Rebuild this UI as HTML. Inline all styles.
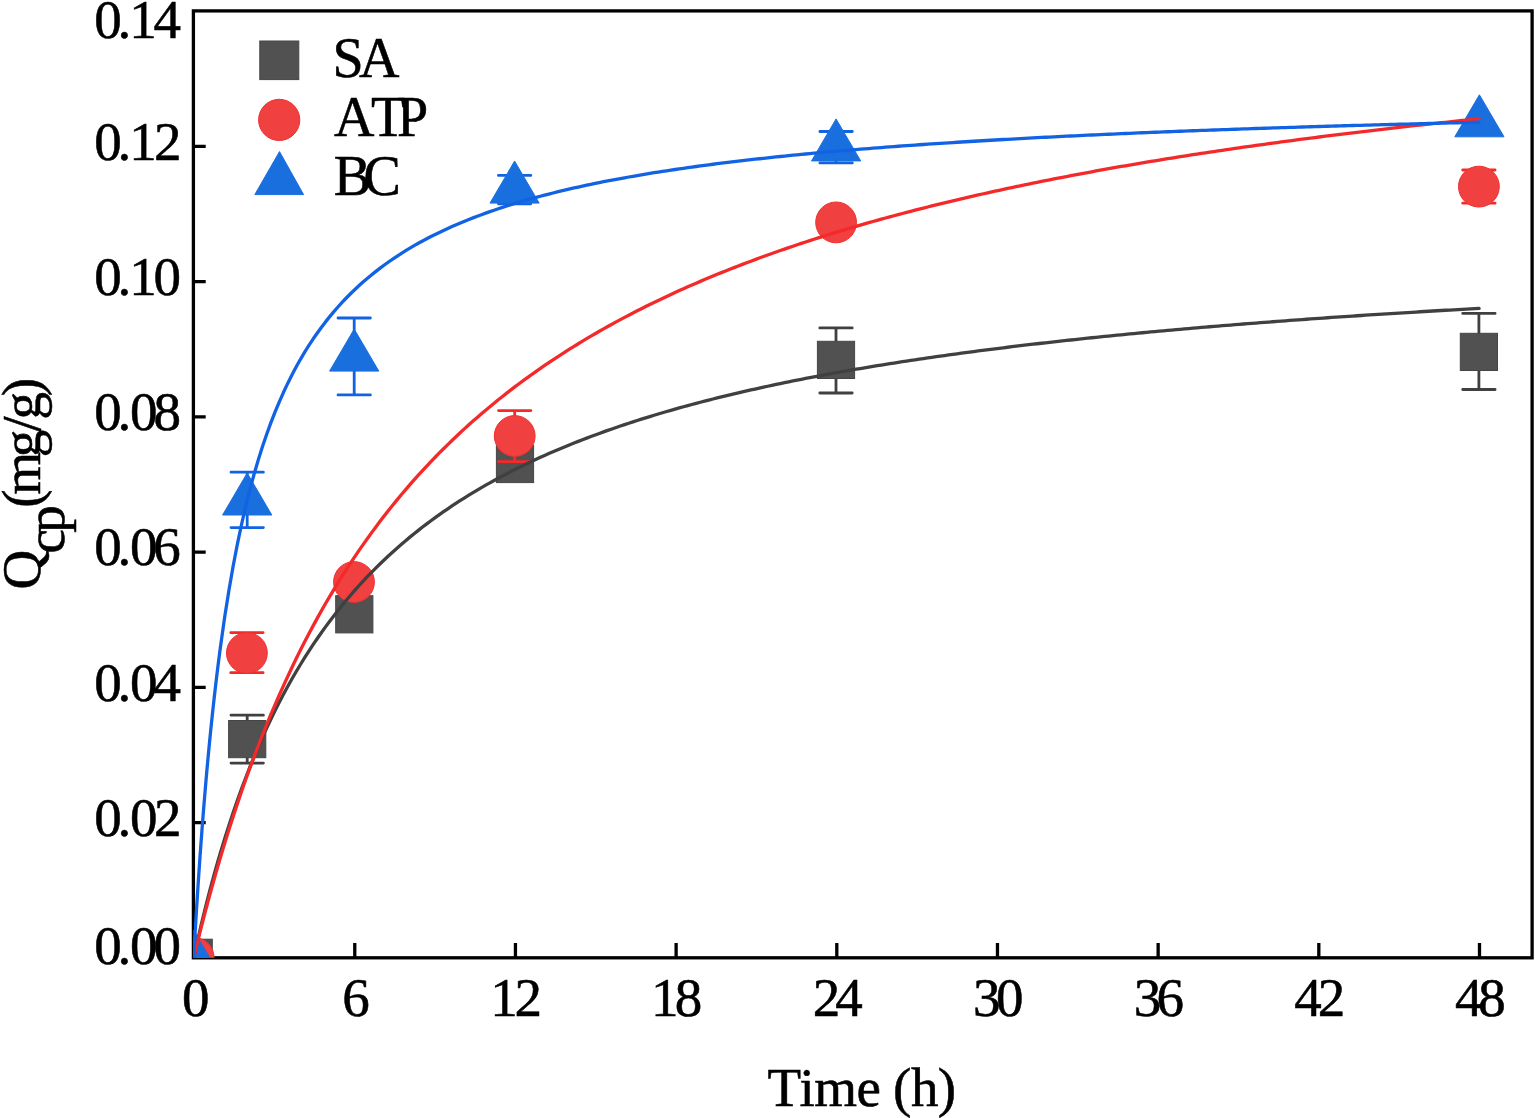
<!DOCTYPE html>
<html><head><meta charset="utf-8"><title>Qcp vs Time</title>
<style>html,body{margin:0;padding:0;background:#fff;overflow:hidden}svg{display:block}
text{font-family:"Liberation Serif","Times New Roman",serif;font-size:55px;fill:#000;stroke:#000;stroke-width:0.55px}</style></head>
<body><svg width="1535" height="1118" viewBox="0 0 1535 1118">
<rect width="1535" height="1118" fill="#fff"/>
<defs><clipPath id="pa"><rect x="193.4" y="10.9" width="1338.7" height="946.9"/></clipPath></defs>
<g>
<g stroke="#000" fill="none" stroke-width="3.3">
<rect x="193.4" y="10.9" width="1338.7" height="946.9"/>
<path d="M354.77,943 V957.8 M515.45,943 V957.8 M676.12,943 V957.8 M836.80,943 V957.8 M997.47,943 V957.8 M1158.14,943 V957.8 M1318.82,943 V957.8 M1479.49,943 V957.8 M193.4,822.56 H205.7 M193.4,687.32 H205.7 M193.4,552.08 H205.7 M193.4,416.84 H205.7 M193.4,281.60 H205.7 M193.4,146.36 H205.7 "/>
</g>
</g>
<g clip-path="url(#pa)">
<g stroke="#404040" stroke-width="2.8" stroke-linecap="round" fill="none"><path d="M247.20,715.20 V763.10 M231.00,715.20 H263.40 M231.00,763.10 H263.40"/><path d="M836.00,327.90 V393.00 M819.80,327.90 H852.20 M819.80,393.00 H852.20"/><path d="M1478.90,313.40 V389.50 M1462.70,313.40 H1495.10 M1462.70,389.50 H1495.10"/></g>
<g fill="#515151" stroke="#454545" stroke-width="1"><rect x="175.10" y="939.20" width="37.2" height="37.2"/><rect x="228.60" y="720.50" width="37.2" height="37.2"/><rect x="335.70" y="595.70" width="37.2" height="37.2"/><rect x="496.40" y="445.40" width="37.2" height="37.2"/><rect x="817.40" y="341.30" width="37.2" height="37.2"/><rect x="1460.30" y="333.30" width="37.2" height="37.2"/></g>
<g stroke="#f42a2a" stroke-width="2.8" stroke-linecap="round" fill="none"><path d="M246.90,632.60 V672.70 M230.70,632.60 H263.10 M230.70,672.70 H263.10"/><path d="M514.70,410.60 V461.60 M498.50,410.60 H530.90 M498.50,461.60 H530.90"/><path d="M1478.90,170.00 V203.20 M1462.70,170.00 H1495.10 M1462.70,203.20 H1495.10"/></g>
<g fill="#F14040" stroke="#f03030" stroke-width="1"><circle cx="193.70" cy="957.80" r="20.4"/><circle cx="246.90" cy="653.00" r="20.4"/><circle cx="354.00" cy="582.00" r="20.4"/><circle cx="514.70" cy="436.00" r="20.4"/><circle cx="836.10" cy="222.40" r="20.4"/><circle cx="1478.90" cy="186.60" r="20.4"/></g>
<g stroke="#1263e4" stroke-width="2.8" stroke-linecap="round" fill="none"><path d="M247.20,472.20 V527.60 M231.00,472.20 H263.40 M231.00,527.60 H263.40"/><path d="M354.20,318.00 V394.90 M338.00,318.00 H370.40 M338.00,394.90 H370.40"/><path d="M514.60,175.40 V203.80 M498.40,175.40 H530.80 M498.40,203.80 H530.80"/><path d="M836.10,131.50 V162.90 M819.90,131.50 H852.30 M819.90,162.90 H852.30"/></g>
<g fill="#1A6FDF" stroke="#1A6FDF" stroke-width="1" stroke-linejoin="round"><path d="M193.70,930.30 L218.30,972.30 L169.10,972.30Z"/><path d="M247.20,473.00 L271.80,515.00 L222.60,515.00Z"/><path d="M354.20,329.10 L378.80,371.10 L329.60,371.10Z"/><path d="M514.60,161.10 L539.20,203.10 L490.00,203.10Z"/><path d="M836.10,118.90 L860.70,160.90 L811.50,160.90Z"/><path d="M1479.40,94.80 L1504.00,136.80 L1454.80,136.80Z"/></g>
<g fill="none" stroke-width="3.3" stroke-linejoin="round" stroke-linecap="round">
<path stroke="#404040" d="M193.70,957.80 L194.15,955.72 L194.61,953.65 L195.06,951.60 L195.52,949.55 L195.97,947.52 L196.42,945.50 L196.88,943.49 L197.33,941.49 L197.78,939.50 L198.24,937.53 L198.69,935.56 L199.15,933.61 L199.60,931.66 L200.05,929.73 L200.51,927.81 L200.96,925.89 L201.42,923.99 L201.87,922.10 L202.32,920.22 L202.78,918.35 L203.23,916.49 L203.69,914.64 L204.14,912.80 L204.59,910.97 L205.05,909.14 L205.50,907.33 L205.95,905.53 L206.41,903.74 L206.86,901.95 L207.32,900.18 L207.77,898.42 L208.22,896.66 L208.68,894.92 L209.13,893.18 L209.59,891.45 L210.04,889.73 L210.49,888.02 L210.95,886.32 L211.40,884.63 L211.86,882.94 L212.31,881.27 L212.76,879.60 L213.22,877.95 L213.67,876.30 L214.12,874.65 L214.58,873.02 L215.03,871.40 L215.49,869.78 L215.94,868.17 L216.39,866.57 L216.85,864.98 L217.30,863.39 L217.76,861.82 L218.21,860.25 L218.66,858.69 L219.12,857.13 L219.57,855.59 L220.03,854.05 L220.48,852.52 L224.69,838.67 L228.90,825.42 L233.11,812.74 L237.32,800.58 L241.53,788.92 L245.74,777.73 L249.94,766.97 L254.15,756.63 L258.36,746.67 L262.57,737.08 L266.78,727.85 L270.99,718.94 L275.20,710.34 L279.41,702.04 L283.62,694.02 L287.83,686.27 L292.04,678.77 L296.25,671.51 L300.46,664.48 L304.67,657.67 L308.88,651.07 L313.09,644.67 L317.30,638.46 L321.50,632.44 L325.71,626.59 L329.92,620.90 L334.13,615.38 L338.34,610.00 L342.55,604.78 L346.76,599.70 L350.97,594.75 L355.18,589.93 L359.39,585.24 L363.60,580.66 L367.81,576.20 L372.02,571.86 L376.23,567.62 L380.44,563.48 L384.65,559.45 L388.86,555.51 L393.06,551.66 L397.27,547.90 L401.48,544.23 L405.69,540.64 L409.90,537.13 L414.11,533.70 L418.32,530.35 L422.53,527.07 L426.74,523.86 L430.95,520.71 L435.16,517.64 L439.37,514.62 L443.58,511.67 L447.79,508.78 L452.00,505.95 L456.21,503.17 L460.42,500.45 L464.62,497.78 L468.83,495.17 L473.04,492.60 L477.25,490.09 L481.46,487.62 L485.67,485.19 L489.88,482.82 L494.09,480.48 L498.30,478.19 L502.51,475.94 L506.72,473.73 L510.93,471.55 L515.14,469.42 L519.35,467.32 L523.56,465.26 L527.77,463.24 L531.98,461.25 L536.18,459.29 L540.39,457.36 L544.60,455.47 L548.81,453.61 L553.02,451.78 L557.23,449.97 L561.44,448.20 L565.65,446.46 L569.86,444.74 L574.07,443.05 L578.28,441.38 L582.49,439.74 L586.70,438.13 L590.91,436.54 L595.12,434.97 L599.33,433.43 L603.54,431.91 L607.74,430.41 L611.95,428.94 L616.16,427.48 L620.37,426.05 L624.58,424.64 L628.79,423.24 L633.00,421.87 L637.21,420.52 L641.42,419.18 L645.63,417.86 L649.84,416.56 L654.05,415.28 L658.26,414.02 L662.47,412.77 L666.68,411.54 L670.89,410.33 L675.10,409.13 L679.30,407.95 L683.51,406.78 L687.72,405.63 L691.93,404.49 L696.14,403.37 L700.35,402.26 L704.56,401.17 L708.77,400.08 L712.98,399.02 L717.19,397.96 L721.40,396.92 L725.61,395.89 L729.82,394.88 L734.03,393.87 L738.24,392.88 L742.45,391.90 L746.66,390.93 L750.86,389.97 L755.07,389.03 L759.28,388.09 L763.49,387.17 L767.70,386.25 L771.91,385.35 L776.12,384.46 L780.33,383.58 L784.54,382.70 L788.75,381.84 L792.96,380.99 L797.17,380.14 L801.38,379.31 L805.59,378.48 L809.80,377.66 L814.01,376.86 L818.21,376.06 L822.42,375.27 L826.63,374.48 L830.84,373.71 L835.05,372.94 L839.26,372.19 L843.47,371.44 L847.68,370.69 L851.89,369.96 L856.10,369.23 L860.31,368.51 L864.52,367.80 L868.73,367.10 L872.94,366.40 L877.15,365.71 L881.36,365.02 L885.57,364.34 L889.77,363.67 L893.98,363.01 L898.19,362.35 L902.40,361.70 L906.61,361.06 L910.82,360.42 L915.03,359.78 L919.24,359.16 L923.45,358.54 L927.66,357.92 L931.87,357.31 L936.08,356.71 L940.29,356.11 L944.50,355.52 L948.71,354.93 L952.92,354.35 L957.13,353.77 L961.33,353.20 L965.54,352.64 L969.75,352.08 L973.96,351.52 L978.17,350.97 L982.38,350.42 L986.59,349.88 L990.80,349.35 L995.01,348.82 L999.22,348.29 L1003.43,347.77 L1007.64,347.25 L1011.85,346.73 L1016.06,346.23 L1020.27,345.72 L1024.48,345.22 L1028.69,344.73 L1032.89,344.23 L1037.10,343.75 L1041.31,343.26 L1045.52,342.78 L1049.73,342.31 L1053.94,341.84 L1058.15,341.37 L1062.36,340.90 L1066.57,340.44 L1070.78,339.99 L1074.99,339.53 L1079.20,339.08 L1083.41,338.64 L1087.62,338.20 L1091.83,337.76 L1096.04,337.32 L1100.25,336.89 L1104.45,336.46 L1108.66,336.04 L1112.87,335.62 L1117.08,335.20 L1121.29,334.79 L1125.50,334.37 L1129.71,333.96 L1133.92,333.56 L1138.13,333.16 L1142.34,332.76 L1146.55,332.36 L1150.76,331.97 L1154.97,331.58 L1159.18,331.19 L1163.39,330.81 L1167.60,330.42 L1171.81,330.05 L1176.01,329.67 L1180.22,329.30 L1184.43,328.93 L1188.64,328.56 L1192.85,328.19 L1197.06,327.83 L1201.27,327.47 L1205.48,327.11 L1209.69,326.76 L1213.90,326.41 L1218.11,326.06 L1222.32,325.71 L1226.53,325.36 L1230.74,325.02 L1234.95,324.68 L1239.16,324.34 L1243.37,324.01 L1247.57,323.68 L1251.78,323.35 L1255.99,323.02 L1260.20,322.69 L1264.41,322.37 L1268.62,322.05 L1272.83,321.73 L1277.04,321.41 L1281.25,321.09 L1285.46,320.78 L1289.67,320.47 L1293.88,320.16 L1298.09,319.86 L1302.30,319.55 L1306.51,319.25 L1310.72,318.95 L1314.93,318.65 L1319.13,318.35 L1323.34,318.06 L1327.55,317.76 L1331.76,317.47 L1335.97,317.18 L1340.18,316.90 L1344.39,316.61 L1348.60,316.33 L1352.81,316.05 L1357.02,315.77 L1361.23,315.49 L1365.44,315.21 L1369.65,314.94 L1373.86,314.66 L1378.07,314.39 L1382.28,314.12 L1386.49,313.86 L1390.69,313.59 L1394.90,313.32 L1399.11,313.06 L1403.32,312.80 L1407.53,312.54 L1411.74,312.28 L1415.95,312.03 L1420.16,311.77 L1424.37,311.52 L1428.58,311.27 L1432.79,311.02 L1437.00,310.77 L1441.21,310.52 L1445.42,310.27 L1449.63,310.03 L1453.84,309.79 L1458.04,309.54 L1462.25,309.30 L1466.46,309.07 L1470.67,308.83 L1474.88,308.59 L1479.09,308.36"/>
<path stroke="#f42a2a" d="M193.70,957.80 L194.15,955.91 L194.61,954.03 L195.06,952.15 L195.52,950.28 L195.97,948.42 L196.42,946.56 L196.88,944.72 L197.33,942.87 L197.78,941.04 L198.24,939.21 L198.69,937.39 L199.15,935.58 L199.60,933.77 L200.05,931.97 L200.51,930.18 L200.96,928.39 L201.42,926.61 L201.87,924.84 L202.32,923.07 L202.78,921.31 L203.23,919.55 L203.69,917.80 L204.14,916.06 L204.59,914.33 L205.05,912.60 L205.50,910.88 L205.95,909.16 L206.41,907.45 L206.86,905.74 L207.32,904.05 L207.77,902.35 L208.22,900.67 L208.68,898.99 L209.13,897.31 L209.59,895.65 L210.04,893.99 L210.49,892.33 L210.95,890.68 L211.40,889.03 L211.86,887.40 L212.31,885.76 L212.76,884.14 L213.22,882.52 L213.67,880.90 L214.12,879.29 L214.58,877.69 L215.03,876.09 L215.49,874.50 L215.94,872.91 L216.39,871.33 L216.85,869.75 L217.30,868.18 L217.76,866.61 L218.21,865.05 L218.66,863.50 L219.12,861.95 L219.57,860.40 L220.03,858.87 L220.48,857.33 L224.69,843.36 L228.90,829.81 L233.11,816.68 L237.32,803.93 L241.53,791.57 L245.74,779.56 L249.94,767.89 L254.15,756.56 L258.36,745.53 L262.57,734.81 L266.78,724.38 L270.99,714.23 L275.20,704.35 L279.41,694.72 L283.62,685.34 L287.83,676.19 L292.04,667.28 L296.25,658.58 L300.46,650.10 L304.67,641.82 L308.88,633.74 L313.09,625.85 L317.30,618.14 L321.50,610.61 L325.71,603.26 L329.92,596.06 L334.13,589.03 L338.34,582.15 L342.55,575.42 L346.76,568.84 L350.97,562.39 L355.18,556.08 L359.39,549.90 L363.60,543.85 L367.81,537.93 L372.02,532.12 L376.23,526.43 L380.44,520.85 L384.65,515.38 L388.86,510.02 L393.06,504.76 L397.27,499.60 L401.48,494.54 L405.69,489.58 L409.90,484.70 L414.11,479.92 L418.32,475.22 L422.53,470.60 L426.74,466.07 L430.95,461.62 L435.16,457.25 L439.37,452.95 L443.58,448.73 L447.79,444.58 L452.00,440.50 L456.21,436.49 L460.42,432.54 L464.62,428.66 L468.83,424.84 L473.04,421.09 L477.25,417.40 L481.46,413.76 L485.67,410.19 L489.88,406.67 L494.09,403.20 L498.30,399.79 L502.51,396.43 L506.72,393.12 L510.93,389.86 L515.14,386.66 L519.35,383.50 L523.56,380.38 L527.77,377.31 L531.98,374.29 L536.18,371.31 L540.39,368.37 L544.60,365.48 L548.81,362.63 L553.02,359.81 L557.23,357.04 L561.44,354.30 L565.65,351.60 L569.86,348.94 L574.07,346.32 L578.28,343.73 L582.49,341.18 L586.70,338.66 L590.91,336.17 L595.12,333.71 L599.33,331.29 L603.54,328.90 L607.74,326.54 L611.95,324.21 L616.16,321.91 L620.37,319.64 L624.58,317.40 L628.79,315.19 L633.00,313.00 L637.21,310.84 L641.42,308.71 L645.63,306.60 L649.84,304.52 L654.05,302.46 L658.26,300.43 L662.47,298.42 L666.68,296.44 L670.89,294.48 L675.10,292.54 L679.30,290.62 L683.51,288.73 L687.72,286.86 L691.93,285.01 L696.14,283.18 L700.35,281.37 L704.56,279.59 L708.77,277.82 L712.98,276.07 L717.19,274.34 L721.40,272.63 L725.61,270.94 L729.82,269.27 L734.03,267.61 L738.24,265.97 L742.45,264.36 L746.66,262.75 L750.86,261.17 L755.07,259.60 L759.28,258.05 L763.49,256.51 L767.70,254.99 L771.91,253.49 L776.12,252.00 L780.33,250.52 L784.54,249.07 L788.75,247.62 L792.96,246.19 L797.17,244.78 L801.38,243.38 L805.59,241.99 L809.80,240.62 L814.01,239.25 L818.21,237.91 L822.42,236.57 L826.63,235.25 L830.84,233.95 L835.05,232.65 L839.26,231.37 L843.47,230.10 L847.68,228.84 L851.89,227.59 L856.10,226.35 L860.31,225.13 L864.52,223.92 L868.73,222.71 L872.94,221.52 L877.15,220.34 L881.36,219.17 L885.57,218.02 L889.77,216.87 L893.98,215.73 L898.19,214.60 L902.40,213.49 L906.61,212.38 L910.82,211.28 L915.03,210.19 L919.24,209.11 L923.45,208.04 L927.66,206.98 L931.87,205.93 L936.08,204.89 L940.29,203.86 L944.50,202.83 L948.71,201.82 L952.92,200.81 L957.13,199.81 L961.33,198.82 L965.54,197.84 L969.75,196.87 L973.96,195.90 L978.17,194.94 L982.38,193.99 L986.59,193.05 L990.80,192.12 L995.01,191.19 L999.22,190.27 L1003.43,189.36 L1007.64,188.45 L1011.85,187.56 L1016.06,186.66 L1020.27,185.78 L1024.48,184.90 L1028.69,184.04 L1032.89,183.17 L1037.10,182.32 L1041.31,181.47 L1045.52,180.62 L1049.73,179.79 L1053.94,178.96 L1058.15,178.13 L1062.36,177.32 L1066.57,176.51 L1070.78,175.70 L1074.99,174.90 L1079.20,174.11 L1083.41,173.32 L1087.62,172.54 L1091.83,171.76 L1096.04,170.99 L1100.25,170.23 L1104.45,169.47 L1108.66,168.72 L1112.87,167.97 L1117.08,167.23 L1121.29,166.49 L1125.50,165.76 L1129.71,165.04 L1133.92,164.31 L1138.13,163.60 L1142.34,162.89 L1146.55,162.18 L1150.76,161.48 L1154.97,160.79 L1159.18,160.09 L1163.39,159.41 L1167.60,158.73 L1171.81,158.05 L1176.01,157.38 L1180.22,156.71 L1184.43,156.05 L1188.64,155.39 L1192.85,154.74 L1197.06,154.09 L1201.27,153.44 L1205.48,152.80 L1209.69,152.16 L1213.90,151.53 L1218.11,150.90 L1222.32,150.28 L1226.53,149.66 L1230.74,149.05 L1234.95,148.43 L1239.16,147.83 L1243.37,147.22 L1247.57,146.62 L1251.78,146.03 L1255.99,145.44 L1260.20,144.85 L1264.41,144.26 L1268.62,143.68 L1272.83,143.11 L1277.04,142.53 L1281.25,141.96 L1285.46,141.40 L1289.67,140.84 L1293.88,140.28 L1298.09,139.72 L1302.30,139.17 L1306.51,138.62 L1310.72,138.08 L1314.93,137.54 L1319.13,137.00 L1323.34,136.46 L1327.55,135.93 L1331.76,135.40 L1335.97,134.88 L1340.18,134.36 L1344.39,133.84 L1348.60,133.32 L1352.81,132.81 L1357.02,132.30 L1361.23,131.79 L1365.44,131.29 L1369.65,130.79 L1373.86,130.29 L1378.07,129.80 L1382.28,129.31 L1386.49,128.82 L1390.69,128.33 L1394.90,127.85 L1399.11,127.37 L1403.32,126.89 L1407.53,126.42 L1411.74,125.95 L1415.95,125.48 L1420.16,125.01 L1424.37,124.55 L1428.58,124.08 L1432.79,123.63 L1437.00,123.17 L1441.21,122.72 L1445.42,122.27 L1449.63,121.82 L1453.84,121.37 L1458.04,120.93 L1462.25,120.49 L1466.46,120.05 L1470.67,119.61 L1474.88,119.18 L1479.09,118.75"/>
<path stroke="#1263e4" d="M193.70,957.80 L194.15,949.65 L194.61,941.66 L195.06,933.81 L195.52,926.10 L195.97,918.54 L196.42,911.11 L196.88,903.81 L197.33,896.64 L197.78,889.60 L198.24,882.68 L198.69,875.88 L199.15,869.19 L199.60,862.62 L200.05,856.16 L200.51,849.80 L200.96,843.55 L201.42,837.40 L201.87,831.35 L202.32,825.40 L202.78,819.55 L203.23,813.78 L203.69,808.11 L204.14,802.52 L204.59,797.03 L205.05,791.61 L205.50,786.28 L205.95,781.03 L206.41,775.86 L206.86,770.76 L207.32,765.74 L207.77,760.79 L208.22,755.92 L208.68,751.11 L209.13,746.38 L209.59,741.71 L210.04,737.11 L210.49,732.57 L210.95,728.10 L211.40,723.69 L211.86,719.34 L212.31,715.04 L212.76,710.81 L213.22,706.63 L213.67,702.51 L214.12,698.45 L214.58,694.44 L215.03,690.48 L215.49,686.57 L215.94,682.71 L216.39,678.91 L216.85,675.15 L217.30,671.44 L217.76,667.77 L218.21,664.15 L218.66,660.58 L219.12,657.05 L219.57,653.57 L220.03,650.12 L220.48,646.72 L224.69,617.05 L228.90,590.39 L233.11,566.30 L237.32,544.43 L241.53,524.48 L245.74,506.22 L249.94,489.43 L254.15,473.95 L258.36,459.62 L262.57,446.33 L266.78,433.97 L270.99,422.44 L275.20,411.65 L279.41,401.55 L283.62,392.07 L287.83,383.14 L292.04,374.74 L296.25,366.80 L300.46,359.29 L304.67,352.19 L308.88,345.45 L313.09,339.04 L317.30,332.96 L321.50,327.16 L325.71,321.64 L329.92,316.37 L334.13,311.33 L338.34,306.52 L342.55,301.91 L346.76,297.49 L350.97,293.26 L355.18,289.20 L359.39,285.29 L363.60,281.54 L367.81,277.93 L372.02,274.45 L376.23,271.10 L380.44,267.87 L384.65,264.76 L388.86,261.75 L393.06,258.85 L397.27,256.04 L401.48,253.33 L405.69,250.70 L409.90,248.16 L414.11,245.69 L418.32,243.30 L422.53,240.99 L426.74,238.74 L430.95,236.57 L435.16,234.45 L439.37,232.40 L443.58,230.40 L447.79,228.46 L452.00,226.57 L456.21,224.73 L460.42,222.95 L464.62,221.21 L468.83,219.51 L473.04,217.86 L477.25,216.25 L481.46,214.68 L485.67,213.15 L489.88,211.66 L494.09,210.20 L498.30,208.78 L502.51,207.39 L506.72,206.04 L510.93,204.71 L515.14,203.42 L519.35,202.15 L523.56,200.92 L527.77,199.71 L531.98,198.53 L536.18,197.37 L540.39,196.23 L544.60,195.13 L548.81,194.04 L553.02,192.98 L557.23,191.93 L561.44,190.91 L565.65,189.91 L569.86,188.93 L574.07,187.97 L578.28,187.03 L582.49,186.11 L586.70,185.20 L590.91,184.31 L595.12,183.44 L599.33,182.58 L603.54,181.74 L607.74,180.92 L611.95,180.11 L616.16,179.31 L620.37,178.53 L624.58,177.76 L628.79,177.00 L633.00,176.26 L637.21,175.53 L641.42,174.82 L645.63,174.11 L649.84,173.42 L654.05,172.74 L658.26,172.07 L662.47,171.41 L666.68,170.76 L670.89,170.12 L675.10,169.50 L679.30,168.88 L683.51,168.27 L687.72,167.67 L691.93,167.08 L696.14,166.50 L700.35,165.93 L704.56,165.37 L708.77,164.81 L712.98,164.26 L717.19,163.73 L721.40,163.20 L725.61,162.67 L729.82,162.16 L734.03,161.65 L738.24,161.15 L742.45,160.65 L746.66,160.17 L750.86,159.69 L755.07,159.21 L759.28,158.75 L763.49,158.29 L767.70,157.83 L771.91,157.38 L776.12,156.94 L780.33,156.51 L784.54,156.08 L788.75,155.65 L792.96,155.23 L797.17,154.82 L801.38,154.41 L805.59,154.01 L809.80,153.61 L814.01,153.21 L818.21,152.83 L822.42,152.44 L826.63,152.06 L830.84,151.69 L835.05,151.32 L839.26,150.95 L843.47,150.59 L847.68,150.24 L851.89,149.88 L856.10,149.54 L860.31,149.19 L864.52,148.85 L868.73,148.52 L872.94,148.19 L877.15,147.86 L881.36,147.53 L885.57,147.21 L889.77,146.90 L893.98,146.58 L898.19,146.27 L902.40,145.97 L906.61,145.66 L910.82,145.36 L915.03,145.07 L919.24,144.77 L923.45,144.48 L927.66,144.20 L931.87,143.91 L936.08,143.63 L940.29,143.35 L944.50,143.08 L948.71,142.81 L952.92,142.54 L957.13,142.27 L961.33,142.01 L965.54,141.75 L969.75,141.49 L973.96,141.23 L978.17,140.98 L982.38,140.73 L986.59,140.48 L990.80,140.23 L995.01,139.99 L999.22,139.75 L1003.43,139.51 L1007.64,139.28 L1011.85,139.04 L1016.06,138.81 L1020.27,138.58 L1024.48,138.35 L1028.69,138.13 L1032.89,137.91 L1037.10,137.69 L1041.31,137.47 L1045.52,137.25 L1049.73,137.04 L1053.94,136.82 L1058.15,136.61 L1062.36,136.40 L1066.57,136.20 L1070.78,135.99 L1074.99,135.79 L1079.20,135.59 L1083.41,135.39 L1087.62,135.19 L1091.83,135.00 L1096.04,134.80 L1100.25,134.61 L1104.45,134.42 L1108.66,134.23 L1112.87,134.04 L1117.08,133.86 L1121.29,133.67 L1125.50,133.49 L1129.71,133.31 L1133.92,133.13 L1138.13,132.95 L1142.34,132.77 L1146.55,132.60 L1150.76,132.43 L1154.97,132.25 L1159.18,132.08 L1163.39,131.91 L1167.60,131.75 L1171.81,131.58 L1176.01,131.41 L1180.22,131.25 L1184.43,131.09 L1188.64,130.93 L1192.85,130.77 L1197.06,130.61 L1201.27,130.45 L1205.48,130.30 L1209.69,130.14 L1213.90,129.99 L1218.11,129.84 L1222.32,129.68 L1226.53,129.53 L1230.74,129.39 L1234.95,129.24 L1239.16,129.09 L1243.37,128.95 L1247.57,128.80 L1251.78,128.66 L1255.99,128.52 L1260.20,128.37 L1264.41,128.24 L1268.62,128.10 L1272.83,127.96 L1277.04,127.82 L1281.25,127.69 L1285.46,127.55 L1289.67,127.42 L1293.88,127.28 L1298.09,127.15 L1302.30,127.02 L1306.51,126.89 L1310.72,126.76 L1314.93,126.63 L1319.13,126.51 L1323.34,126.38 L1327.55,126.26 L1331.76,126.13 L1335.97,126.01 L1340.18,125.88 L1344.39,125.76 L1348.60,125.64 L1352.81,125.52 L1357.02,125.40 L1361.23,125.28 L1365.44,125.17 L1369.65,125.05 L1373.86,124.93 L1378.07,124.82 L1382.28,124.70 L1386.49,124.59 L1390.69,124.48 L1394.90,124.36 L1399.11,124.25 L1403.32,124.14 L1407.53,124.03 L1411.74,123.92 L1415.95,123.81 L1420.16,123.71 L1424.37,123.60 L1428.58,123.49 L1432.79,123.39 L1437.00,123.28 L1441.21,123.18 L1445.42,123.07 L1449.63,122.97 L1453.84,122.87 L1458.04,122.77 L1462.25,122.67 L1466.46,122.57 L1470.67,122.47 L1474.88,122.37 L1479.09,122.27"/>
</g></g>
<text x="94.25 117.62 130.00 153.60" y="964.2">0.00</text>
<text x="94.25 117.62 130.00 153.90" y="836.1">0.02</text>
<text x="94.25 117.62 130.00 153.49" y="700.6">0.04</text>
<text x="94.25 117.62 130.00 153.24" y="565.2">0.06</text>
<text x="94.25 117.62 130.00 153.60" y="429.9">0.08</text>
<text x="94.25 117.62 129.23 153.60" y="294.8">0.10</text>
<text x="94.25 117.62 129.23 153.90" y="159.7">0.12</text>
<text x="94.25 117.62 129.23 153.49" y="38.0">0.14</text>
<text x="182.05" y="1016">0</text>
<text x="342.37" y="1016">6</text>
<text x="490.23 514.40" y="1016">12</text>
<text x="650.90 674.77" y="1016">18</text>
<text x="812.65 835.34" y="1016">24</text>
<text x="973.02 996.12" y="1016">30</text>
<text x="1133.69 1156.44" y="1016">36</text>
<text x="1294.26 1317.77" y="1016">42</text>
<text x="1454.93 1478.14" y="1016">48</text>
<text x="767.62 799.60 814.27 856.43" y="1105.6">Time</text>
<text x="892.96 910.88 937.82" y="1105.6">(h)</text>
<text transform="rotate(-90)" x="-589.51" y="39.5">Q</text>
<text transform="rotate(-90)" x="-553.40 -532.87" y="64.3">cp</text>
<text transform="rotate(-90)" x="-507.84 -494.83 -457.21 -431.84 -419.41 -396.33" y="39.5">(mg/g)</text>
<rect x="259.8" y="41" width="39" height="38.6" fill="#515151" stroke="#454545" stroke-width="1"/>
<circle cx="279.2" cy="119.9" r="20.6" fill="#F14040" stroke="#f03030" stroke-width="1"/>
<path d="M279.5,151.6 L303.6,194.6 L254.8,194.6Z" fill="#1A6FDF" stroke="#1A6FDF" stroke-width="1" stroke-linejoin="round"/>
<text x="332.44 359.00" y="77.0" style="font-size:56px">SA</text>
<text x="334.05 371.01 397.04" y="136.0" style="font-size:56px">ATP</text>
<text x="333.63 363.42" y="195.3" style="font-size:56px">BC</text>
</svg></body></html>
